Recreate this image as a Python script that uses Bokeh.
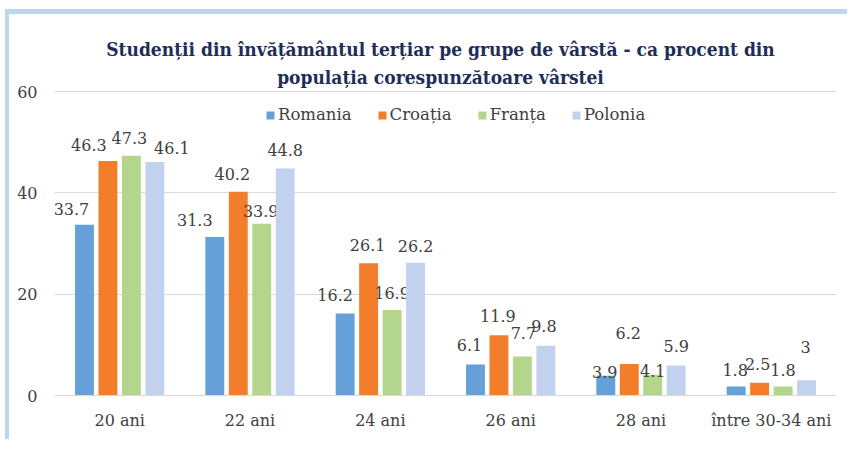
from bokeh.plotting import figure
from bokeh.models import (ColumnDataSource, Legend, LegendItem, Label, FactorRange,
                          Range1d, FixedTicker)
from bokeh.transform import dodge
from bokeh.core.properties import value
from bokeh.embed import file_html
from bokeh.resources import INLINE

# ---- data ----
categories = ["20 ani", "22 ani", "24 ani", "26 ani", "28 ani", "între 30-34 ani"]
series_names = ["Romania", "Croația", "Franța", "Polonia"]
romania = [33.7, 31.3, 16.2, 6.1, 3.9, 1.8]
croatia = [46.3, 40.2, 26.1, 11.9, 6.2, 2.5]
franta = [47.3, 33.9, 16.9, 7.7, 4.1, 1.8]
polonia = [46.1, 44.8, 26.2, 9.8, 5.9, 3]
y_ticks = [0, 20, 40, 60]
title_lines = ["Studenții din învățământul terțiar pe grupe de vârstă - ca procent din",
               "populația corespunzătoare vârstei"]

# ---- style ----
colors = ["#65A1D8", "#F27E2C", "#B3D68C", "#C2D2EE"]
offsets = [-0.27, -0.09, 0.09, 0.27]
bar_width = 0.145
label_dx = [[-13, -20, -10, -6, -1, -1],
            [-19, -6, -1, -1, -1, -2],
            [-2, -1, 0, 1, 0, 0],
            [17, 0, 0, -2, 0, -1]]
label_dy = [[-16, -17, -18, -20, -4, -16],
            [-16, -18, -18, -19, -31, -19],
            [-18, -13, -17, -23, -4, -16],
            [-14, -19, -17, -20, -20, -33]]
title_y = [68.3, 62.8]   # baselines of the two title lines, in axis units

FONT = "DejaVu Serif"
TXT = "#404040"

p = figure(x_range=FactorRange(factors=categories, range_padding=0),
           y_range=Range1d(0, 75.2),
           width=847, height=439,
           output_backend="svg", toolbar_location=None,
           min_border_left=54, min_border_right=11,
           min_border_top=14, min_border_bottom=44)
p.styles = {"box-shadow": ("inset 0 9px 0 0 white, inset 5px 0 0 0 white, "
                           "inset 0 14px 0 0 #BDD7EE, inset 9px 0 0 0 #BDD7EE")}
p.outline_line_color = None
p.background_fill_color = "white"
p.border_fill_color = None

all_series = [romania, croatia, franta, polonia]
items = []
for k, vals in enumerate(all_series):
    src = ColumnDataSource(dict(
        cat=categories, val=vals,
        lab=[f"{v:g}" for v in vals],
        dx=label_dx[k], dy=label_dy[k]))
    r = p.vbar(x=dodge("cat", offsets[k], range=p.x_range), top="val",
               width=bar_width, source=src, color=colors[k], line_color=None)
    items.append(LegendItem(label=series_names[k], renderers=[r]))
    p.text(x=dodge("cat", offsets[k], range=p.x_range), y="val", text="lab",
           x_offset="dx", y_offset="dy", source=src,
           text_font=value(FONT), text_font_size="16px", text_color=TXT,
           text_align="center", text_baseline="middle")

legend = Legend(items=items, orientation="horizontal", location=(211, 271),
                border_line_color=None, background_fill_alpha=0,
                padding=0, margin=0, spacing=25, label_standoff=3,
                glyph_width=10, glyph_height=10,
                label_text_font=FONT, label_text_font_size="16.5px",
                label_text_color=TXT)
p.add_layout(legend)

p.xaxis.major_tick_line_color = None
p.xaxis.minor_tick_line_color = None
p.xaxis.axis_line_color = "#D9D9D9"
p.xaxis.major_label_standoff = 9
p.xaxis.major_label_text_font = FONT
p.xaxis.major_label_text_font_size = "16px"
p.xaxis.major_label_text_color = TXT

p.yaxis.ticker = FixedTicker(ticks=y_ticks)
p.yaxis.axis_line_color = None
p.yaxis.major_tick_line_color = None
p.yaxis.minor_tick_line_color = None
p.yaxis.major_label_standoff = 11
p.yaxis.major_label_text_font = FONT
p.yaxis.major_label_text_font_size = "16px"
p.yaxis.major_label_text_color = TXT

p.xgrid.grid_line_color = None
p.ygrid.grid_line_color = "#D9D9D9"

for line, ypos in zip(title_lines, title_y):
    p.add_layout(Label(x=386, y=ypos, x_units="screen", y_units="data",
                       text=line, text_align="center", text_baseline="alphabetic",
                       text_font="DejaVu Serif Condensed", text_font_size="19px",
                       text_font_style="bold", text_color="#1F2D5A"))

open("out.html", "w").write(file_html(p, INLINE))
